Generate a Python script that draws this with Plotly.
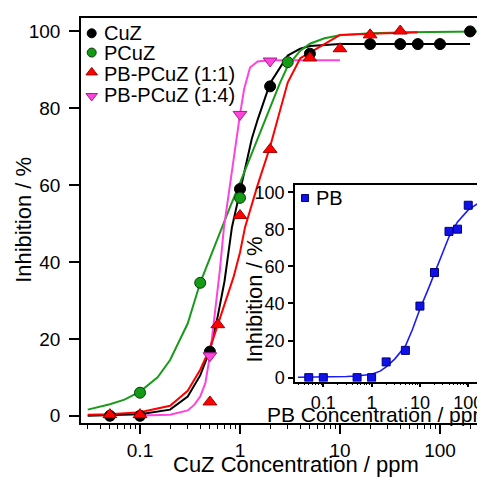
import plotly.graph_objects as go

# ---------------- data ----------------
cuz_x = [0.05, 0.1, 0.5, 1, 2, 5, 20, 40, 60, 100, 200]
cuz_y = [0, 0, 16.7, 59.0, 85.7, 94.2, 96.7, 96.7, 96.7, 96.7, 100]

pcuz_x = [0.1, 0.4, 1, 3]
pcuz_y = [6.0, 34.6, 56.7, 92.0]

pb11_x = [0.05, 0.1, 0.5, 0.6, 1, 2, 5, 10, 20, 40]
pb11_y = [0.3, 0.3, 3.6, 23.7, 52.1, 69.3, 93.1, 95.5, 99.1, 100.1]

pb14_x = [0.5, 1, 2]
pb14_y = [15.6, 78.4, 92.3]

cuz_fit_x = [0.03, 0.05, 0.1, 0.2, 0.3, 0.4, 0.5, 0.6, 0.7, 0.83, 1, 1.17, 1.31, 1.5, 2, 3, 4, 5, 10, 50, 200]
cuz_fit_y = [0, 0.1, 0.4, 1.6, 5.0, 10.5, 17, 26, 35, 49, 58.5, 66.8, 72, 77, 86.5, 93.7, 95.5, 96.2, 96.7, 96.7, 96.7]

pcuz_fit_x = [0.03, 0.05, 0.07, 0.1, 0.15, 0.2, 0.3, 0.4, 0.5, 0.6, 0.7, 0.8, 1, 1.3, 1.6, 2, 2.5, 3, 4, 5, 7, 10, 20, 50, 100, 300]
pcuz_fit_y = [1.6, 3.0, 4.2, 6.3, 10, 14.5, 24, 34.6, 41, 46.3, 50.7, 54.5, 60.6, 68, 74, 80.5, 86.5, 91, 95, 96.8, 98.2, 99.0, 99.5, 99.8, 99.9, 100]

pb11_fit_x = [0.03, 0.05, 0.1, 0.2, 0.3, 0.4, 0.5, 0.6, 0.7, 0.86, 1, 1.12, 1.5, 2, 3, 4, 10, 60]
pb11_fit_y = [0.3, 0.4, 0.9, 2.6, 6.5, 12, 17.5, 23.7, 29, 36, 42.5, 48.9, 60, 70, 86.7, 93, 99.1, 99.8]

pb14_fit_x = [0.1, 0.2, 0.3, 0.35, 0.4, 0.45, 0.5, 0.56, 0.63, 0.69, 0.8, 0.86, 0.91, 1, 1.1, 1.26, 1.5, 2, 10]
pb14_fit_y = [0.1, 0.3, 1.4, 2.9, 5.0, 8.5, 15.6, 26, 38, 48.9, 61, 66.8, 72, 78.4, 85, 90.6, 92.2, 92.5, 92.5]

pb_x = [0.05, 0.1, 0.5, 1, 2, 5, 10, 20, 40, 60, 100]
pb_y = [0, 0, 0, 0, 8.5, 14.7, 38.6, 56.7, 78.9, 80.1, 93.0]
pb_fit_x = [0.03, 0.1, 0.3, 0.5, 1, 1.5, 2, 3, 5, 7, 10, 15, 20, 30, 40, 60, 100, 150, 250]
pb_fit_y = [0.2, 0.3, 0.6, 0.9, 1.8, 3.5, 5.8, 10, 17, 26, 37, 48, 56, 68, 76, 84, 90.5, 93.5, 96]

legend_labels = ["CuZ", "PCuZ", "PB-PCuZ (1:1)", "PB-PCuZ (1:4)"]
x_tick_vals = [0.1, 1, 10, 100]
x_tick_text = ["0.1", "1", "10", "100"]

# ---------------- styles ----------------
# page body keeps its default 8px margin; the figure is sized so the page never scrolls
OFF = 8
W, H = 485 - OFF, 486 - 2 * OFF
FONT = "Liberation Sans, Arial, sans-serif"
C_BLK = "#000000"
C_GRN = "#1a9a1a"
C_RED = "#ff0000"
C_MAG = "#ff44dd"
C_BLU = "#1a1aff"


def px_x(p):
    """window pixel x -> paper fraction"""
    return (p - OFF) / W


def px_y(p):
    """window pixel y -> paper fraction"""
    return (H - (p - OFF)) / H


fig = go.Figure()

for fx, fy, col in [(cuz_fit_x, cuz_fit_y, C_BLK), (pcuz_fit_x, pcuz_fit_y, C_GRN),
                    (pb14_fit_x, pb14_fit_y, C_MAG), (pb11_fit_x, pb11_fit_y, C_RED)]:
    fig.add_trace(go.Scatter(x=fx, y=fy, mode="lines", line=dict(color=col, width=2),
                             showlegend=False, hoverinfo="skip"))

mk_styles = [
    (cuz_x, cuz_y, dict(symbol="circle", size=11, color=C_BLK, line=dict(color="#000000", width=1))),
    (pcuz_x, pcuz_y, dict(symbol="circle", size=11, color="#159a15", line=dict(color="#0b3d0b", width=1))),
    (pb11_x, pb11_y, dict(symbol="triangle-up", size=12, color="#ff0000", line=dict(color="#a00000", width=1))),
    (pb14_x, pb14_y, dict(symbol="triangle-down", size=12, color="#ff44dd", line=dict(color="#a0208a", width=1))),
]
for mx, my, mk in mk_styles:
    fig.add_trace(go.Scatter(x=mx, y=my, mode="markers", marker=mk, showlegend=False))

fig.add_trace(go.Scatter(x=pb_fit_x, y=pb_fit_y, mode="lines", line=dict(color=C_BLU, width=1.6),
                         xaxis="x2", yaxis="y2", showlegend=False))
fig.add_trace(go.Scatter(x=pb_x, y=pb_y, mode="markers", xaxis="x2", yaxis="y2", showlegend=False,
                         marker=dict(symbol="square", size=8, color="#1010e8", line=dict(color="#00007a", width=1))))

# custom legend markers (pixel-coordinate overlay axes)
leg_marker_y = [31.7, 51.3, 71.5, 95.5]
leg_text_y = [31, 51.5, 73, 94.5]
leg_syms = [("circle", 9, C_BLK, "#000000"), ("circle", 9, "#159a15", "#0b3d0b"),
            ("triangle-up", 10, "#ff0000", "#a00000"), ("triangle-down", 10, "#ff44dd", "#a0208a")]
for yy, (sym, sz, fc, lc) in zip(leg_marker_y, leg_syms):
    fig.add_trace(go.Scatter(x=[91.7], y=[yy], mode="markers", xaxis="x3", yaxis="y3", showlegend=False,
                             marker=dict(symbol=sym, size=sz, color=fc, line=dict(color=lc, width=1))))
fig.add_trace(go.Scatter(x=[305], y=[199.3], mode="markers", xaxis="x4", yaxis="y4", showlegend=False,
                         marker=dict(symbol="square", size=7, color="#1010e8", line=dict(color="#00007a", width=1))))

annotations = []
for t, yy in zip(legend_labels, leg_text_y):
    annotations.append(dict(text=t, x=px_x(101.5), y=px_y(yy), xref="paper", yref="paper",
                            xanchor="left", yanchor="middle", showarrow=False,
                            font=dict(family=FONT, size=20, color="black")))
annotations.append(dict(text="PB", x=px_x(314), y=px_y(199.5), xref="paper", yref="paper",
                        xanchor="left", yanchor="middle", showarrow=False,
                        font=dict(family=FONT, size=20, color="black")))
annotations.append(dict(text="CuZ Concentration / ppm", x=px_x(295.5), y=px_y(470), xref="paper", yref="paper",
                        xanchor="center", yanchor="middle", showarrow=False,
                        font=dict(family=FONT, size=22, color="black")))
annotations.append(dict(text="Inhibition / %", x=px_x(24), y=px_y(221.5), xref="paper", yref="paper",
                        xanchor="center", yanchor="middle", showarrow=False, textangle=-90,
                        font=dict(family=FONT, size=22, color="black")))
annotations.append(dict(text="PB Concentration / ppm", x=px_x(265), y=px_y(419.5), xref="paper", yref="paper",
                        xanchor="left", yanchor="middle", showarrow=False,
                        font=dict(family=FONT, size=21, color="black")))
annotations.append(dict(text="Inhibition / %", x=px_x(254.5), y=px_y(302), xref="paper", yref="paper",
                        xanchor="center", yanchor="middle", showarrow=False, textangle=-90,
                        font=dict(family=FONT, size=22, color="black")))

tickfont = dict(family=FONT, size=19, color="black")
tickfont_in = dict(family=FONT, size=18, color="black")

fig.update_layout(
    width=W, height=H,
    margin=dict(l=0, r=0, t=0, b=0),
    paper_bgcolor="white", plot_bgcolor="white",
    showlegend=False,
    hovermode=False,
    annotations=annotations,
    xaxis=dict(type="log", domain=[px_x(81), 1], range=[-1.59, 2.45], anchor="y",
               tickvals=x_tick_vals, ticktext=x_tick_text, ticks="outside", ticklen=10, tickwidth=1.5,
               tickcolor="black", showline=True, linecolor="black", linewidth=1.5, mirror=True,
               showgrid=False, zeroline=False, tickfont=tickfont,
               minor=dict(ticks="outside", ticklen=5, tickwidth=1.2, tickcolor="black", dtick="D1", showgrid=False)),
    yaxis=dict(domain=[px_y(427.7), px_y(15.7)], range=[-1.76, 103.6], anchor="x",
               tick0=0, dtick=20, ticks="outside", ticklen=10, tickwidth=1.5, tickcolor="black",
               showline=True, linecolor="black", linewidth=1.5, mirror=False,
               showgrid=False, zeroline=False, tickfont=tickfont, ticklabelstandoff=5),
    xaxis2=dict(type="log", domain=[px_x(295), 1], range=[-1.586, 2.347], anchor="y2",
                tickvals=x_tick_vals, ticktext=x_tick_text, ticks="outside", ticklen=4, tickwidth=1.5,
                tickcolor="black", showline=True, linecolor="black", linewidth=1.5, mirror=True,
                showgrid=False, zeroline=False, tickfont=tickfont_in,
                minor=dict(ticks="outside", ticklen=2, tickwidth=1, tickcolor="black", dtick="D1", showgrid=False)),
    yaxis2=dict(domain=[px_y(386), px_y(185.7)], range=[-2.12, 104.1], anchor="x2",
                tick0=0, dtick=20, ticks="outside", ticklen=5, tickwidth=1.5, tickcolor="black",
                showline=True, linecolor="black", linewidth=1.5, mirror=False,
                showgrid=False, zeroline=False, tickfont=tickfont_in),
    xaxis3=dict(overlaying="x", anchor="y3", range=[81, 485], visible=False),
    yaxis3=dict(overlaying="y", anchor="x3", range=[427.7, 15.7], visible=False),
    xaxis4=dict(overlaying="x2", anchor="y4", range=[295, 485], visible=False),
    yaxis4=dict(overlaying="y2", anchor="x4", range=[386, 185.7], visible=False),
)

fig.write_html("out.html", config={"displayModeBar": False})
